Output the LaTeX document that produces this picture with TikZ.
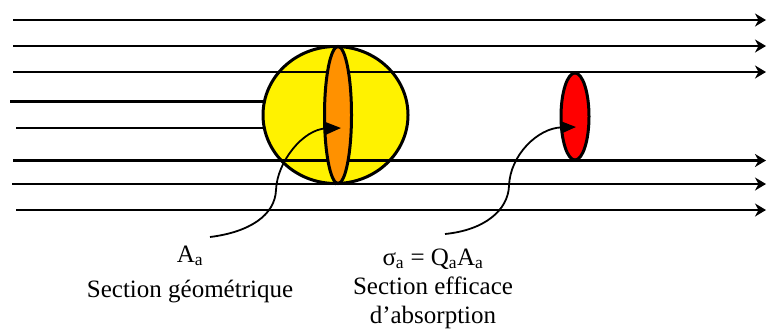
\documentclass[tikz,border=0pt]{standalone}
\usepackage{fontspec}
\setmainfont{Liberation Serif}
\usetikzlibrary{arrows.meta, shapes.geometric}

\definecolor{discorange}{RGB}{255,145,0}

\begin{document}
\begin{tikzpicture}[x=1pt, y=-1pt,
    ray/.style={line width=1.4pt, -{Stealth[length=11pt, width=13pt, inset=3.5pt]}},
    stopped/.style={line width=2.1pt},
    disc/.style={ellipse, draw=black, line width=3pt, inner sep=0pt},
    pointer/.style={line width=1.8pt, -{Triangle[length=15pt, width=12pt]}},
    lbl/.style={align=center, inner sep=0pt, font=\fontsize{25}{29}\selectfont}
]
\useasboundingbox (0,0) rectangle (767,333);

% rays stopped by the sphere
\draw[stopped] (10,101.5) -- (335,101.5);
\draw[stopped, line width=2.4pt] (16,128) -- (335,128);

\node[disc, fill=yellow, minimum width=145pt, minimum height=137pt] (sphere) at (335.5,115) {};

% rays going past
\foreach \y/\x in {20/13, 46/13, 184/12, 210/16}
    \draw[ray] (\x,\y) -- (766,\y);
\draw[ray] (13,72) -- (766,72);
\draw[ray, line width=2.4pt] (13,160.5) -- (766,160.5);

\node[disc, fill=discorange, minimum width=27pt, minimum height=137pt] (geom) at (338,115) {};
\node[disc, fill=red, minimum width=28pt, minimum height=87pt] (absorb) at (575,116.5) {};

\coordinate (gtip) at (341,128);
\coordinate (atip) at (576,127);
\coordinate (gstart) at (210,237);
\coordinate (astart) at (445,234);

\draw[pointer] (gstart) .. controls (250,232) and (275,215) .. (276,190)
    .. controls (277,162) and (303,129) .. (gtip);
\draw[pointer] (astart) .. controls (485,230) and (508,210) .. (509,186)
    .. controls (510,155) and (538,128) .. (atip);

\node[lbl, anchor=north] (geomlbl) at (190,245.5)
    {A\textsubscript{a}\\[6pt]Section géométrique};
\node[lbl, anchor=north] (abslbl) at (433,248.5)
    {σ\textsubscript{a} = Q\textsubscript{a}A\textsubscript{a}\\Section efficace\\d’absorption};
\end{tikzpicture}
\end{document}
